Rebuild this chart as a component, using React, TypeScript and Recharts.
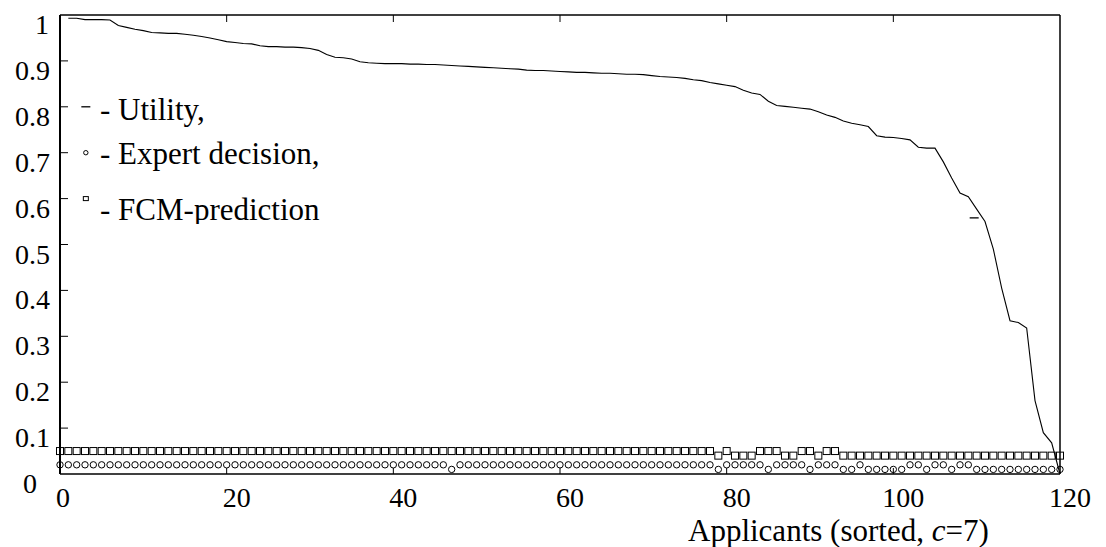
import { ComposedChart, Line, Scatter, XAxis, YAxis } from "recharts";

const FONT = '"Liberation Serif", "Times New Roman", Times, serif';

const xTicks = [0, 20, 40, 60, 80, 100, 120];
const yTicks = [0, 0.1, 0.2, 0.3, 0.4, 0.5, 0.6, 0.7, 0.8, 0.9, 1];

// utility of applicants 1..120 (already sorted)
const utility = [
  0.993, 0.993, 0.99, 0.99, 0.99, 0.989, 0.977, 0.973, 0.969, 0.966,
  0.962, 0.961, 0.96, 0.96, 0.958, 0.956, 0.953, 0.95, 0.946, 0.942,
  0.94, 0.938, 0.937, 0.933, 0.931, 0.931, 0.93, 0.93, 0.929, 0.927,
  0.923, 0.914, 0.908, 0.907, 0.904, 0.898, 0.896, 0.895, 0.894, 0.894,
  0.894, 0.893, 0.893, 0.892, 0.892, 0.891, 0.89, 0.889, 0.888, 0.887,
  0.886, 0.885, 0.884, 0.883, 0.882, 0.88, 0.879, 0.879, 0.878, 0.877,
  0.876, 0.875, 0.875, 0.874, 0.873, 0.873, 0.872, 0.871, 0.871, 0.87,
  0.868, 0.866, 0.865, 0.864, 0.862, 0.859, 0.857, 0.853, 0.85, 0.847,
  0.844, 0.836, 0.83, 0.827, 0.812, 0.803, 0.801, 0.799, 0.797, 0.795,
  0.789, 0.782, 0.777, 0.769, 0.764, 0.761, 0.757, 0.737, 0.734, 0.733,
  0.731, 0.728, 0.712, 0.71, 0.71, 0.68, 0.645, 0.612, 0.604, 0.577,
  0.55, 0.49, 0.405, 0.334, 0.33, 0.318, 0.16, 0.09, 0.068, 0,
];

// markers for x = 0..120
const expertDecision = [
  0.02, 0.02, 0.02, 0.02, 0.02, 0.02, 0.02, 0.02, 0.02, 0.02,
  0.02, 0.02, 0.02, 0.02, 0.02, 0.02, 0.02, 0.02, 0.02, 0.02,
  0.02, 0.02, 0.02, 0.02, 0.02, 0.02, 0.02, 0.02, 0.02, 0.02,
  0.02, 0.02, 0.02, 0.02, 0.02, 0.02, 0.02, 0.02, 0.02, 0.02,
  0.02, 0.02, 0.02, 0.02, 0.02, 0.02, 0.02, 0.01, 0.02, 0.02,
  0.02, 0.02, 0.02, 0.02, 0.02, 0.02, 0.02, 0.02, 0.02, 0.02,
  0.02, 0.02, 0.02, 0.02, 0.02, 0.02, 0.02, 0.02, 0.02, 0.02,
  0.02, 0.02, 0.02, 0.02, 0.02, 0.02, 0.02, 0.02, 0.02, 0.01,
  0.02, 0.02, 0.02, 0.02, 0.02, 0.01, 0.02, 0.02, 0.02, 0.02,
  0.01, 0.02, 0.02, 0.02, 0.01, 0.01, 0.02, 0.01, 0.01, 0.01,
  0.01, 0.01, 0.02, 0.02, 0.01, 0.02, 0.02, 0.01, 0.02, 0.02,
  0.01, 0.01, 0.01, 0.01, 0.01, 0.01, 0.01, 0.01, 0.01, 0.01,
  0.01,
];

const fcmPrediction = [
  0.05, 0.05, 0.05, 0.05, 0.05, 0.05, 0.05, 0.05, 0.05, 0.05,
  0.05, 0.05, 0.05, 0.05, 0.05, 0.05, 0.05, 0.05, 0.05, 0.05,
  0.05, 0.05, 0.05, 0.05, 0.05, 0.05, 0.05, 0.05, 0.05, 0.05,
  0.05, 0.05, 0.05, 0.05, 0.05, 0.05, 0.05, 0.05, 0.05, 0.05,
  0.05, 0.05, 0.05, 0.05, 0.05, 0.05, 0.05, 0.05, 0.05, 0.05,
  0.05, 0.05, 0.05, 0.05, 0.05, 0.05, 0.05, 0.05, 0.05, 0.05,
  0.05, 0.05, 0.05, 0.05, 0.05, 0.05, 0.05, 0.05, 0.05, 0.05,
  0.05, 0.05, 0.05, 0.05, 0.05, 0.05, 0.05, 0.05, 0.05, 0.04,
  0.05, 0.04, 0.04, 0.04, 0.05, 0.05, 0.05, 0.04, 0.04, 0.05,
  0.05, 0.04, 0.05, 0.05, 0.04, 0.04, 0.04, 0.04, 0.04, 0.04,
  0.04, 0.04, 0.04, 0.04, 0.04, 0.04, 0.04, 0.04, 0.04, 0.04,
  0.04, 0.04, 0.04, 0.04, 0.04, 0.04, 0.04, 0.04, 0.04, 0.04,
  0.04,
];

// symbols drawn inside the plot (legend keys + a stray dash)
const markX = [3.1, 3.1, 3.1, 109.7];
const markY = [0.8, 0.7, 0.6, 0.558];
const markKind = ["dash", "circle", "square", "dash"];

const legendLabels = ["- Utility,", "- Expert decision,", "- FCM-prediction"];

const rows = expertDecision.map((e, i) => ({
  x: i,
  utility: i === 0 ? null : utility[i - 1],
  expert: e,
  fcm: fcmPrediction[i],
}));

const marks = markX.map((x, i) => ({ x, y: markY[i], kind: markKind[i] }));

const Ring = (p: any) => (
  <circle cx={p.cx} cy={p.cy} r={3.2} fill="none" stroke="#000" strokeWidth={1} />
);

const Box = (p: any) => (
  <rect x={p.cx - 3.5} y={p.cy - 3.5} width={7} height={7} fill="none" stroke="#000" strokeWidth={1} />
);

function Mark(p: any) {
  const k = p.payload?.kind;
  if (k === "dash")
    return <line x1={p.cx - 4.5} x2={p.cx + 4.5} y1={p.cy} y2={p.cy} stroke="#000" strokeWidth={1.3} />;
  if (k === "circle")
    return <circle cx={p.cx} cy={p.cy} r={2.2} fill="none" stroke="#000" strokeWidth={1} />;
  return <rect x={p.cx - 2.5} y={p.cy - 2} width={5} height={4} fill="none" stroke="#000" strokeWidth={1} />;
}

function BottomTick({ x, y, payload }: any) {
  const v = payload.value;
  return (
    <g>
      {v > 0 && v < 120 && <line x1={x} y1={y} x2={x} y2={y - 6} stroke="#000" />}
      <text x={x + (v === 0 ? 3 : 10)} y={y + 33} textAnchor="middle" fontFamily={FONT} fontSize={28} fill="#000">
        {v}
      </text>
    </g>
  );
}

function TopTick({ x, y, payload }: any) {
  const v = payload.value;
  if (v <= 0 || v >= 120) return <g />;
  return <line x1={x} y1={y} x2={x} y2={y + 7} stroke="#000" />;
}

function LeftTick({ x, y, payload }: any) {
  const v = payload.value;
  const label = v === 0 ? "0" : v === 1 ? "1" : String(v);
  const endX = v === 0 ? x - 23 : v === 1 ? x - 11 : x - 10;
  return (
    <g>
      {v > 0 && v < 1 && <line x1={x} y1={y} x2={x + 8} y2={y} stroke="#000" />}
      <text x={endX} y={y + 19} textAnchor="end" fontFamily={FONT} fontSize={28} fill="#000">
        {label}
      </text>
    </g>
  );
}

function RightTick({ x, y, payload }: any) {
  const v = payload.value;
  if (v <= 0 || v >= 1) return <g />;
  return <line x1={x} y1={y} x2={x - 10} y2={y} stroke="#000" />;
}

export default function App() {
  return (
    <div
      style={{
        position: "absolute",
        left: 8,
        top: 8,
        width: 1090,
        height: 539,
        overflow: "hidden",
        background: "#fff",
      }}
    >
      <ComposedChart width={1090} height={539} data={rows} margin={{ top: 0, right: 0, bottom: 0, left: 0 }}>
        <XAxis
          dataKey="x"
          type="number"
          domain={[0, 120]}
          ticks={xTicks}
          interval={0}
          height={73}
          tickSize={0}
          tickMargin={0}
          tickLine={false}
          axisLine={{ stroke: "#000", strokeWidth: 1.5 }}
          tick={BottomTick}
        />
        <XAxis
          xAxisId="top"
          orientation="top"
          dataKey="x"
          type="number"
          domain={[0, 120]}
          ticks={xTicks}
          interval={0}
          height={7}
          tickSize={0}
          tickMargin={0}
          tickLine={false}
          axisLine={{ stroke: "#000", strokeWidth: 1.5 }}
          tick={TopTick}
        />
        <YAxis
          type="number"
          domain={[0, 1]}
          ticks={yTicks}
          interval={0}
          width={52}
          tickSize={0}
          tickMargin={0}
          tickLine={false}
          axisLine={{ stroke: "#000", strokeWidth: 2 }}
          tick={LeftTick}
        />
        <YAxis
          yAxisId="right"
          orientation="right"
          type="number"
          domain={[0, 1]}
          ticks={yTicks}
          interval={0}
          width={38}
          tickSize={0}
          tickMargin={0}
          tickLine={false}
          axisLine={{ stroke: "#000", strokeWidth: 1.5 }}
          tick={RightTick}
        />
        <Line
          dataKey="utility"
          stroke="#000"
          strokeWidth={1.1}
          dot={false}
          type="linear"
          isAnimationActive={false}
        />
        <Scatter data={rows} dataKey="fcm" shape={Box} isAnimationActive={false} />
        <Scatter data={rows} dataKey="expert" shape={Ring} isAnimationActive={false} />
        <Scatter data={marks} dataKey="y" shape={Mark} isAnimationActive={false} />
      </ComposedChart>
      <svg width={1090} height={539} style={{ position: "absolute", left: 0, top: 0, pointerEvents: "none" }}>
        <defs>
          <clipPath id="legend-clip">
            <rect x={0} y={0} width={420} height={216} />
          </clipPath>
        </defs>
        <g clipPath="url(#legend-clip)" fontFamily={FONT} fontSize={31} fill="#000">
          {legendLabels.map((t, i) => (
            <text key={t} x={92} y={[112, 156, 212][i]}>
              {t}
            </text>
          ))}
        </g>
        <text x={680} y={533} fontFamily={FONT} fontSize={31} fill="#000">
          Applicants (sorted, <tspan fontStyle="italic">c</tspan>=7)
        </text>
      </svg>
    </div>
  );
}
